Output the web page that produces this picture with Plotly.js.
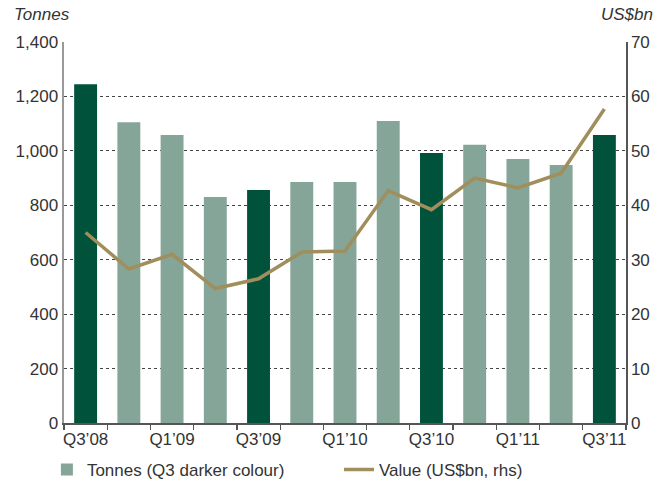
<!DOCTYPE html>
<html><head><meta charset="utf-8">
<script src="https://cdn.plot.ly/plotly-3.0.1.min.js"></script>
<style>body{margin:0;background:#fff}#c{width:670px;height:492px}</style>
</head><body><div id="c"></div>
<script>
const quarters = ["Q3’08","Q4’08","Q1’09","Q2’09","Q3’09","Q4’09","Q1’10","Q2’10","Q3’10","Q4’10","Q1’11","Q2’11","Q3’11"];
const tonnes = [1245, 1105, 1058, 830, 856, 886, 886, 1110, 992, 1022, 970, 948, 1058];
const valueUSbn = [35.0, 28.3, 31.0, 24.7, 26.5, 31.4, 31.6, 42.7, 39.2, 45.0, 43.2, 45.9, 57.7];
const tickLabelIdx = [0, 2, 4, 6, 8, 10, 12];

const dark = "#00533A", light = "#84A598", gold = "#A08F5C";
const xs = quarters.map((q, i) => i);
const barColors = quarters.map(q => q.startsWith("Q3") ? dark : light);
const font = {family: "Liberation Sans, Arial, sans-serif", size: 17, color: "#333"};

const traces = [
  {type: "bar", x: xs, y: tonnes, marker: {color: barColors}, width: 0.53, showlegend: false, hoverinfo: "skip"},
  {type: "bar", x: [null], y: [null], marker: {color: light}, name: "Tonnes (Q3 darker colour)", legend: "legend"},
  {type: "scatter", mode: "lines", x: xs, y: valueUSbn, yaxis: "y2", line: {color: gold, width: 3.5}, name: "Value (US$bn, rhs)", legend: "legend2"},
  {type: "scatter", mode: "lines", x: [-0.5, 12.5], y: [null, null], xaxis: "x2", showlegend: false, hoverinfo: "skip"}
];

const legendBase = {
  orientation: "h", xref: "container", xanchor: "left",
  yref: "container", y: 0.045, yanchor: "middle",
  bgcolor: "rgba(0,0,0,0)", font: font, itemwidth: 30
};

const layout = {
  width: 670, height: 492,
  margin: {l: 64, r: 44, t: 42, b: 69, autoexpand: false},
  paper_bgcolor: "#fff", plot_bgcolor: "#fff",
  font: font,
  xaxis: {
    range: [-0.5, 12.5], tickmode: "array",
    tickvals: tickLabelIdx, ticktext: tickLabelIdx.map(i => quarters[i]),
    ticks: "", showgrid: false, zeroline: false,
    showline: true, linecolor: "#555", linewidth: 1.5,
    tickfont: font, fixedrange: true, automargin: false
  },
  xaxis2: {
    overlaying: "x", range: [-0.5, 12.5], tickmode: "linear", tick0: -0.5, dtick: 1,
    ticks: "outside", ticklen: 6, tickcolor: "#555", tickwidth: 1.2,
    showticklabels: false, showgrid: false, zeroline: false, showline: false,
    anchor: "y"
  },
  yaxis: {
    range: [0, 1400], dtick: 200, tickformat: ",d",
    showgrid: true, gridcolor: "#444", griddash: "dot", gridwidth: 1,
    zeroline: false, showline: true, linecolor: "#999", linewidth: 2.5,
    ticks: "", tickfont: font, automargin: false
  },
  yaxis2: {
    range: [0, 70], dtick: 10, overlaying: "y", side: "right",
    showgrid: false, zeroline: false, showline: true, linecolor: "#555", linewidth: 1.5,
    ticks: "", tickfont: font, automargin: false
  },
  legend: Object.assign({}, legendBase, {x: 0.070}),
  legend2: Object.assign({}, legendBase, {x: 0.506}),
  annotations: [
    {text: "<i>Tonnes</i>", xref: "paper", yref: "paper", x: -0.0925, y: 1.073, xanchor: "left", yanchor: "middle", showarrow: false, font: font},
    {text: "<i>US$bn</i>", xref: "paper", yref: "paper", x: 1.052, y: 1.073, xanchor: "right", yanchor: "middle", showarrow: false, font: font}
  ]
};

Plotly.newPlot("c", traces, layout, {displayModeBar: false, staticPlot: true});
</script></body></html>
